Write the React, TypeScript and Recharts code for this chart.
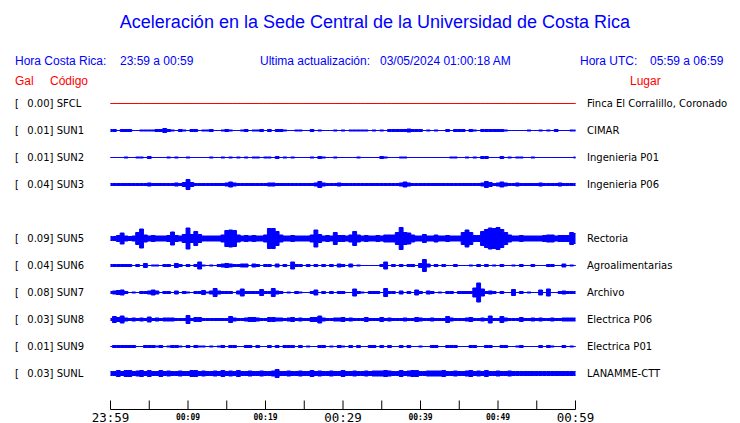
import { Area, ComposedChart, XAxis, YAxis } from "recharts";

// stations, top to bottom (slot 4 is the empty SUN4 row)
const codes = ["SFCL", "SUN1", "SUN2", "SUN3", "SUN5", "SUN6", "SUN7", "SUN8", "SUN9", "SUNL"];
const gals = [0.0, 0.01, 0.01, 0.04, 0.09, 0.04, 0.08, 0.03, 0.01, 0.03];
const places = [
  "Finca El Corralillo, Coronado",
  "CIMAR",
  "Ingenieria P01",
  "Ingenieria P06",
  "Rectoria",
  "Agroalimentarias",
  "Archivo",
  "Electrica P06",
  "Electrica P01",
  "LANAMME-CTT",
];
const slots = [0, 1, 2, 3, 5, 6, 7, 8, 9, 10];

// trace envelopes, one char per 30 s (23:59 -> 00:59), base-36 trace thickness
const traces = [
  "0000000000 0000000000 0000000000 0000000000 0000000000 0000000000 0000000000 0000000000 0000000000 0000000000 0000000000 0000000000 0",
  "2202220011 1122421021 0220112001 2100120112 0202210011 0020100010 1011111010 1022222322 2010100202 2202102222 2210000010 0101020001 1",
  "0000100110 2000010100 1000001001 0101010110 1102010100 0010210010 0000100000 2100011000 0000000011 0010102200 0201011001 0000000000 1",
  "2222222222 3222222324 a422222222 3532222222 2332222222 2223632223 2222222222 2222235322 2222222222 2222223642 3532232222 2322223222 2",
  "446b545cj7 565556d658 l8e8555557 ghg7565655 7kke755655 557h8565c6 657e756556 5777cmcb75 5855755655 5chc66eilk mic7556555 556775666c a",
  "2222220204 0110220420 2027101023 4322330320 2203020722 0202020203 2030100000 2702020220 4c30202002 0001020201 0200102002 0002200301 0",
  "2345201022 3530220302 1022413832 2203722226 2283201021 0025020202 2007210222 0822030205 2032010220 22229j7232 0200602010 0507002322 2",
  "2647323232 5232333222 8244222222 2632234432 2443323423 2244732233 4232224222 4232223224 3223222632 2234223272 2632224223 2322322333 3",
  "0222222002 2212012210 2021101012 0220022020 0202022202 0100220102 1020200220 2020020200 1002200222 0002200220 0220012000 0202100201 0",
  "4464664564 6446454454 4664544546 4546445445 4458445445 4464544544 6445445455 5654464566 4455556445 4456454644 5445444444 4444444444 4",
];
const traceColors = ["#ff0000", "#0000ff", "#0000ff", "#0000ff", "#0000ff", "#0000ff", "#0000ff", "#0000ff", "#0000ff", "#0000ff"];

const tickMinutes = [0, 5, 10, 15, 20, 25, 30, 35, 40, 45, 50, 55, 60];
const tickLabels = ["23:59", "", "00:09", "", "00:19", "", "00:29", "", "00:39", "", "00:49", "", "00:59"];
const bigLabels = ["23:59", "00:29", "00:59"];

const W = 740;
const H = 423;
const PLOT_H = 409.5;
const ROW0 = 103.5;
const ROW_GAP = 27;

const centers = slots.map((s) => ROW0 + s * ROW_GAP);
const levels = traces.map((s) => s.replace(/ /g, "").split("").map((c) => parseInt(c, 36)));

const chartData = levels[0].map((_, i) => {
  const row: Record<string, number | [number, number]> = { t: i / 2 };
  codes.forEach((code, k) => {
    const half = levels[k][i] / 2;
    row[code] = [centers[k] - half, centers[k] + half];
  });
  return row;
});

const TimeTick = (props: any) => {
  const { x, y, payload } = props;
  const label = tickLabels[tickMinutes.indexOf(payload.value)];
  const big = bigLabels.includes(label);
  return (
    <g>
      <line x1={x} x2={x} y1={y - 9} y2={y} stroke="#000" />
      {label && (
        <text
          x={x}
          y={y + (big ? 12 : 10)}
          textAnchor="middle"
          fontFamily="DejaVu Sans Mono"
          fontSize={big ? 12.5 : 8}
          fontWeight={big ? "normal" : "bold"}
          fill="#000"
        >
          {label}
        </text>
      )}
    </g>
  );
};

const StationTick = (props: any) => {
  const { y, payload } = props;
  const k = centers.indexOf(payload.value);
  if (k < 0) return <g />;
  return (
    <g fontFamily="DejaVu Sans" fontSize={10} fill="#000">
      <text x={15} y={y + 3.5}>[</text>
      <text x={27.3} y={y + 3.5}>{`${gals[k].toFixed(2)}] ${codes[k]}`}</text>
    </g>
  );
};

const PlaceTick = (props: any) => {
  const { x, y, payload } = props;
  const k = centers.indexOf(payload.value);
  if (k < 0) return <g />;
  return (
    <text x={x + 11.5} y={y + 3.5} fontFamily="DejaVu Sans" fontSize={10} fill="#000">
      {places[k]}
    </text>
  );
};

const head = { fontFamily: "Liberation Sans, Arial, sans-serif", fontSize: 12 };

export default function App() {
  return (
    <div style={{ position: "absolute", left: 0, top: 0, width: W, height: H, background: "#fff" }}>
      <ComposedChart width={W} height={H} data={chartData} margin={{ top: 0, right: 0, bottom: 0, left: 0 }}>
        <XAxis
          dataKey="t"
          type="number"
          domain={[0, 60]}
          ticks={tickMinutes}
          interval={0}
          height={H - PLOT_H}
          tickSize={0}
          tickMargin={0}
          tickLine={false}
          axisLine={{ stroke: "#000" }}
          tick={<TimeTick />}
        />
        <YAxis
          yAxisId="l"
          orientation="left"
          type="number"
          width={110.5}
          domain={[0, PLOT_H]}
          reversed
          allowDataOverflow
          ticks={centers}
          interval={0}
          tickSize={0}
          tickMargin={0}
          tickLine={false}
          axisLine={false}
          tick={<StationTick />}
        />
        <YAxis
          yAxisId="r"
          orientation="right"
          type="number"
          width={164.5}
          domain={[0, PLOT_H]}
          reversed
          allowDataOverflow
          ticks={centers}
          interval={0}
          tickSize={0}
          tickMargin={0}
          tickLine={false}
          axisLine={false}
          tick={<PlaceTick />}
        />
        {codes.map((code, k) => (
          <Area
            key={code}
            yAxisId="l"
            type="step"
            dataKey={code}
            stroke={traceColors[k]}
            strokeWidth={1}
            fill={traceColors[k]}
            fillOpacity={1}
            dot={false}
            activeDot={false}
            isAnimationActive={false}
          />
        ))}
      </ComposedChart>
      <svg width={W} height={H} style={{ position: "absolute", left: 0, top: 0, pointerEvents: "none" }}>
        <text x={375} y={28} textAnchor="middle" fill="#0000ff" fontFamily="Liberation Sans, Arial, sans-serif" fontSize={18}>
          Aceleración en la Sede Central de la Universidad de Costa Rica
        </text>
        <g fill="#0000ff" {...head}>
          <text x={15} y={65}>Hora Costa Rica:</text>
          <text x={120} y={65}>23:59 a 00:59</text>
          <text x={260} y={65}>Ultima actualización:</text>
          <text x={380} y={65}>03/05/2024 01:00:18 AM</text>
          <text x={580} y={65}>Hora UTC:</text>
          <text x={650} y={65}>05:59 a 06:59</text>
        </g>
        <g fill="#ff0000" {...head}>
          <text x={15} y={85}>Gal</text>
          <text x={50} y={85}>Código</text>
          <text x={630} y={85}>Lugar</text>
        </g>
      </svg>
    </div>
  );
}
